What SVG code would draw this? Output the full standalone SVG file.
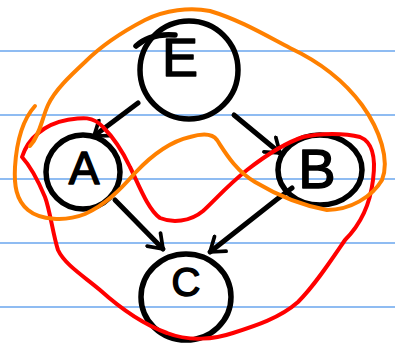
<svg xmlns="http://www.w3.org/2000/svg" width="395" height="347" viewBox="0 0 395 347">
<defs>
<style>
.rule{stroke:#6aa6ee;stroke-width:1.5}
.node{fill:none;stroke:#000;stroke-width:5.5;stroke-linecap:round}
.lbl{font-family:"Liberation Sans",Arial,sans-serif;fill:#000;stroke:#000;stroke-width:1.5;stroke-linejoin:round;text-anchor:middle}
.edge{fill:none;stroke:#000;stroke-width:5;stroke-linecap:round;marker-end:url(#ah)}
.loop{fill:none;stroke-width:4;stroke-linecap:round;stroke-linejoin:round}
</style>
<marker id="ah" viewBox="0 0 12 12" refX="9" refY="6" markerWidth="4.5" markerHeight="4.5" orient="auto" markerUnits="strokeWidth">
<path d="M2,1 L9,6 L2,11" fill="none" stroke="#000" stroke-width="2" stroke-linecap="round" stroke-linejoin="round"/>
</marker>
</defs>
<rect width="395" height="347" fill="#fff"/>
<g id="rules">
<line class="rule" x1="0" y1="51" x2="395" y2="51"/>
<line class="rule" x1="0" y1="115" x2="395" y2="115"/>
<line class="rule" x1="0" y1="179" x2="395" y2="179"/>
<line class="rule" x1="0" y1="243" x2="395" y2="243"/>
<line class="rule" x1="0" y1="307" x2="395" y2="307"/>
</g>
<g id="connectors">
<path class="edge" d="M138,103 L94,136"/>
<path class="edge" d="M234,115 L280,153"/>
<path class="edge" d="M115,200 L163,249"/>
<path class="edge" d="M292,188 L276,200 L210,252"/>
</g>
<g id="node-E">
<circle class="node" cx="189" cy="70" r="49"/>
<path class="node" d="M136,46 Q150,33 175,35"/>
<text class="lbl" x="180" y="76" font-size="54">E</text>
</g>
<g id="node-A">
<circle class="node" cx="83" cy="172" r="37"/>
<text class="lbl" x="84" y="184" font-size="46">A</text>
</g>
<g id="node-B">
<ellipse class="node" cx="320" cy="170" rx="42" ry="35"/>
<text class="lbl" x="317" y="188" font-size="56">B</text>
</g>
<g id="node-C">
<ellipse class="node" cx="186" cy="297" rx="45" ry="43"/>
<text class="lbl" x="186" y="296" font-size="40">C</text>
</g>
<g id="loops">
<path class="loop" stroke="#ff0000" d="M22,157 C28,138 45,124 67,120 C80,118 92,115 103,127 C112,136 122,150 130,167 C138,183 148,210 160,218 C172,223 190,222 203,211 C215,200 228,185 247,170 C265,156 285,143 303,137 C320,133 345,133 360,137 C375,143 375,165 373,180 C370,205 360,225 345,240 C330,262 315,285 298,302 C280,318 255,326 233,333 C215,339 190,342 167,333 C145,325 120,308 100,290 C85,277 65,265 58,250 C53,235 50,210 45,197 C40,185 32,168 22,157 Z"/>
<path class="loop" stroke="#ff8000" d="M35,106 C25,117 17,135 15,167 C14,185 16,200 28,210 C40,220 65,222 85,214 C105,205 120,190 135,173 C150,157 168,142 190,137 C200,134 212,133 217,140 C225,152 235,170 255,182 C275,194 300,205 327,210 C350,210 372,197 382,180 C390,160 380,130 362,105 C345,82 320,62 290,48 C265,35 240,20 210,11 C190,7 165,10 145,20 C120,33 100,47 85,62 C70,76 55,90 48,105 C42,118 40,135 30,146"/>
</g>
</svg>
